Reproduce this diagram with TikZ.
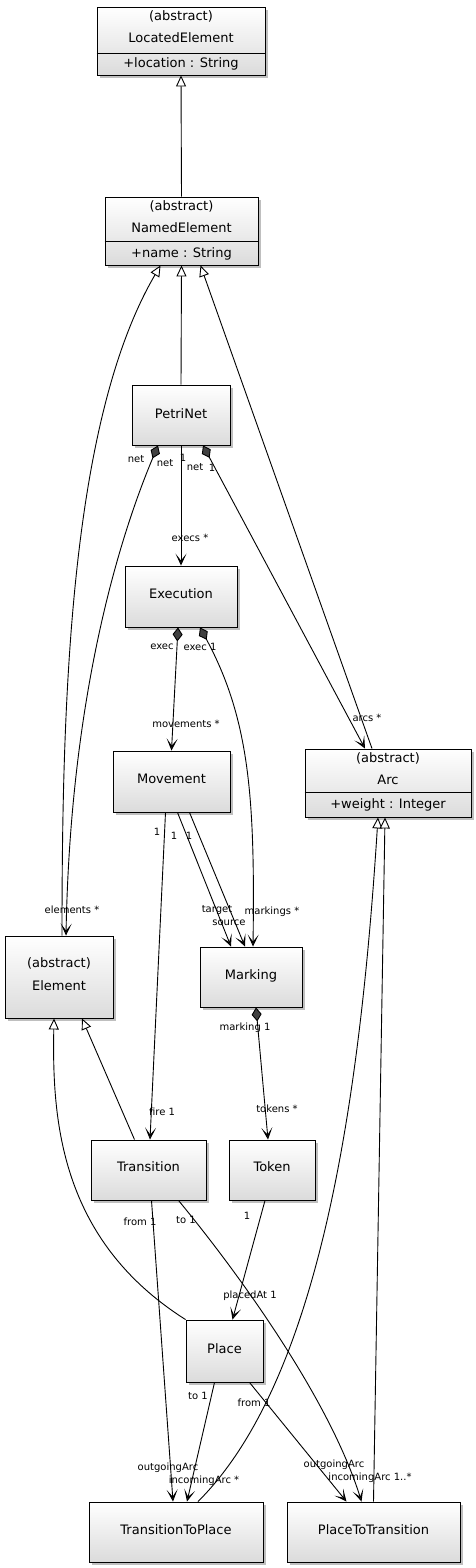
\documentclass[tikz,border=0pt]{standalone}
\usepackage{fontspec}
\setmainfont{DejaVu Sans}
\usetikzlibrary{arrows.meta,shadows}
\tikzset{
  cls/.style={draw=black, line width=0.9pt, top color=white, bottom color=black!14,
    drop shadow={shadow xshift=3pt,shadow yshift=-3pt,opacity=0.25,fill=black},
    inner sep=0pt},
  txt/.style={font=\fontsize{13}{15}\selectfont, inner sep=0pt},
  lbl/.style={font=\fontsize{10}{12}\selectfont, inner sep=0pt},
  edge/.style={line width=0.9pt},
  tip/.style={Stealth[length=12pt,width=11pt,inset=7pt,fill=black!80]},
  arr/.style={edge, -{Stealth[length=12pt,width=11pt,inset=7pt,fill=black!80]}},
  comp/.style={edge, {Diamond[length=14pt,width=10pt,fill=black!75]}-{Stealth[length=12pt,width=11pt,inset=7pt,fill=black!80]}},
  gen/.style={edge, -{Triangle[open,length=11pt,width=10pt,fill=white]}},
}
\begin{document}
\begin{tikzpicture}[x=1pt,y=-1pt]
\useasboundingbox (0,0) rectangle (475,1568);
% classes
\node[cls, minimum width=168pt, minimum height=68pt] (LE) at (181,41) {};
\draw[line width=0.9pt] (LE.west |- 0,53) -- (LE.east |- 0,53);
\node[txt] (LEa) at (181,16) {(abstract)};
\node[txt] (LEb) at (181,38) {LocatedElement};
\node[txt] (LEc) at (181,64) {+location : String};

\node[cls, minimum width=153pt, minimum height=68pt] (NE) at (181.5,231) {};
\draw[line width=0.9pt] (NE.west |- 0,241) -- (NE.east |- 0,241);
\node[txt] (NEa) at (181.5,206) {(abstract)};
\node[txt] (NEb) at (181.5,228) {NamedElement};
\node[txt] (NEc) at (181.5,254) {+name : String};

\node[cls, minimum width=98pt, minimum height=60pt] (PN) at (181,415) {};
\node[txt] (PNt) at (181,414) {PetriNet};

\node[cls, minimum width=112pt, minimum height=61pt] (EX) at (181,596.5) {};
\node[txt] (EXt) at (181,594) {Execution};

\node[cls, minimum width=117pt, minimum height=61pt] (MV) at (171.5,781.5) {};
\node[txt] (MVt) at (171.5,779) {Movement};

\node[cls, minimum width=166pt, minimum height=68pt] (ARC) at (388,783) {};
\draw[line width=0.9pt] (ARC.west |- 0,792) -- (ARC.east |- 0,792);
\node[txt] (ARCa) at (388,758) {(abstract)};
\node[txt] (ARCb) at (388,780) {Arc};
\node[txt] (ARCc) at (388,805) {+weight : Integer};

\node[cls, minimum width=108pt, minimum height=82pt] (EL) at (59,977) {};
\node[txt] (ELa) at (59,963) {(abstract)};
\node[txt] (ELb) at (59,986) {Element};

\node[cls, minimum width=102pt, minimum height=60pt] (MK) at (251,977) {};
\node[txt] (MKt) at (251,976) {Marking};

\node[cls, minimum width=115pt, minimum height=60pt] (TR) at (148.5,1170) {};
\node[txt] (TRt) at (148.5,1167) {Transition};

\node[cls, minimum width=86pt, minimum height=60pt] (TK) at (272,1170) {};
\node[txt] (TKt) at (272,1167) {Token};

\node[cls, minimum width=77pt, minimum height=62pt] (PL) at (224.5,1351) {};
\node[txt] (PLt) at (224.5,1349) {Place};

\node[cls, minimum width=174pt, minimum height=60pt] (TTP) at (176,1532) {};
\node[txt] (TTPt) at (176,1530) {TransitionToPlace};

\node[cls, minimum width=173pt, minimum height=60pt] (PTT) at (373.5,1532) {};
\node[txt] (PTTt) at (373.5,1530) {PlaceToTransition};

% generalizations
\draw[gen] (NE.north) -- (LE.south);
\draw[gen] (PN.north) -- (NE.south);
\draw[gen] ([xshift=3pt]EL.north) .. controls (62,700) and (70,420) .. ([xshift=-21pt]NE.south);
\draw[gen] ([xshift=-16pt]ARC.north) -- ([xshift=19pt]NE.south);
\draw[gen] ([xshift=-14pt]TR.north) -- ([xshift=23pt]EL.south);
\draw[gen] (PL.north west) .. controls (60,1240) and (52,1120) .. ([xshift=-5pt]EL.south);
\draw[gen] ([xshift=22pt]TTP.north) .. controls (320,1380) and (360,1100) .. ([xshift=-10pt]ARC.south);
\draw[gen] (PTT.north) -- ([xshift=-3pt]ARC.south);

% compositions and associations
\draw[comp] ([xshift=-23pt]PN.south) .. controls (110,560) and (70,720) .. ([xshift=7pt]EL.north);
\draw[arr] (PN.south) -- (EX.north);
\draw[comp] ([xshift=22pt]PN.south) -- ([xshift=-23pt]ARC.north);
\draw[comp] ([xshift=-3pt]EX.south) -- (MV.north);
\draw[comp] ([xshift=19pt]EX.south) .. controls (250,720) and (255,800) .. ([xshift=2pt]MK.north);
\draw[arr] ([xshift=-6pt]MV.south) -- ([xshift=1.5pt]TR.north);
\draw[arr] ([xshift=6pt]MV.south) -- ([xshift=-20pt]MK.north);
\draw[arr] ([xshift=18pt]MV.south) -- ([xshift=-6pt]MK.north);
\draw[comp] ([xshift=5pt]MK.south) -- ([xshift=-4pt]TK.north);
\draw[arr] ([xshift=-7pt]TK.south) -- ([xshift=8pt]PL.north);
\draw[arr] ([xshift=3pt]TR.south) -- ([xshift=-3pt]TTP.north);
\draw[arr] ([xshift=-10pt]PL.south) -- ([xshift=11pt]TTP.north);
\draw[arr] ([xshift=30pt]TR.south) .. controls (240,1275) and (330,1400) .. ([xshift=-12pt]PTT.north);
\draw[arr] ([xshift=25pt]PL.south) -- ([xshift=-27pt]PTT.north);

% labels
\node[lbl] (l1) at (136,459) {net};
\node[lbl] (l2) at (165,463) {net};
\node[lbl] (l3) at (183,458) {1};
\node[lbl] (l4) at (195,467) {net};
\node[lbl] (l5) at (212,468) {1};
\node[lbl] (l6) at (190,538) {execs *};
\node[lbl] (l7) at (162,647) {exec};
\node[lbl] (l8) at (200,647) {exec 1};
\node[lbl] (l9) at (186,724) {movements *};
\node[lbl] (l10) at (367,718) {arcs *};
\node[lbl] (l11) at (157,832) {1};
\node[lbl] (l12) at (174,836) {1};
\node[lbl] (l13) at (189,836) {1};
\node[lbl] (l14) at (72,910) {elements *};
\node[lbl] (l15) at (217,910) {target};
\node[lbl] (l16) at (229,923) {source};
\node[lbl] (l17) at (272,912) {markings *};
\node[lbl] (l18) at (245,1028) {marking 1};
\node[lbl] (l19) at (162,1112) {fire 1};
\node[lbl] (l20) at (277,1109) {tokens *};
\node[lbl] (l21) at (140,1222) {from 1};
\node[lbl] (l22) at (186,1220) {to 1};
\node[lbl] (l23) at (247,1216) {1};
\node[lbl] (l24) at (250,1296) {placedAt 1};
\node[lbl] (l25) at (198,1396) {to 1};
\node[lbl] (l26) at (254,1403) {from 1};
\node[lbl] (l27) at (168,1468) {outgoingArc};
\node[lbl] (l28) at (204,1481) {incomingArc *};
\node[lbl] (l29) at (334,1465) {outgoingArc};
\node[lbl] (l30) at (370,1478) {incomingArc 1..*};
\end{tikzpicture}
\end{document}
